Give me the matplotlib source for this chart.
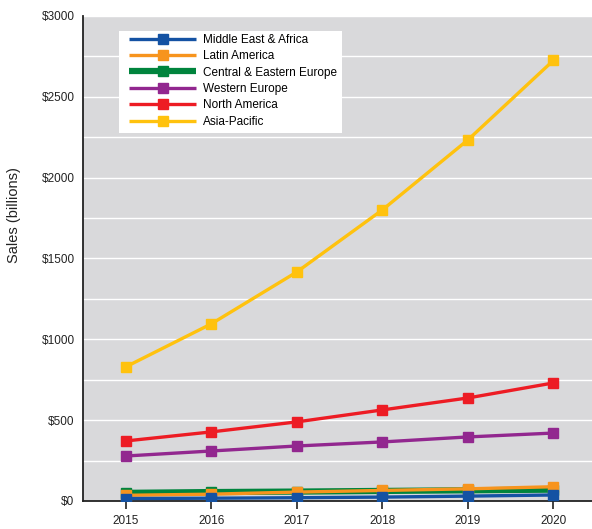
import matplotlib
matplotlib.use("Agg")
import matplotlib.pyplot as plt
from matplotlib.patches import Rectangle
from matplotlib.ticker import MultipleLocator, FuncFormatter

plt.rcParams['font.family'] = ['Liberation Sans', 'DejaVu Sans']

years = [2015, 2016, 2017, 2018, 2019, 2020]
series_names = ["Middle East & Africa", "Latin America", "Central & Eastern Europe",
                "Western Europe", "North America", "Asia-Pacific"]
mea = [15, 17, 20, 24, 30, 37]
latam = [35, 42, 55, 65, 75, 88]
cee = [50, 55, 58, 62, 66, 70]
weu = [278, 309, 340, 365, 396, 420]
nam = [371, 427, 489, 563, 637, 730]
apac = [829, 1095, 1416, 1800, 2233, 2725]
values = [mea, latam, cee, weu, nam, apac]
colors = ["#1452a3", "#f7941d", "#00843d", "#92278f", "#ed1c24", "#ffc20e"]
lws = [2.4, 2.4, 4.5, 2.4, 2.4, 2.4]

fig = plt.figure(figsize=(5.92, 5.29), dpi=100)
ax = fig.add_axes([0.140, 0.053, 0.860, 0.917])
ax.set_facecolor("#d9d9db")

for i, (name, vals, c, lw) in enumerate(zip(series_names, values, colors, lws)):
    ax.plot(years, vals, color=c, lw=lw, marker='s', markersize=7.5,
            label=name, zorder=10 - i, solid_capstyle='butt')

ax.set_xlim(2014.5, 2020.45)
ax.set_ylim(0, 3000)
ax.set_xticks(years)
ax.yaxis.set_major_locator(MultipleLocator(500))
ax.yaxis.set_minor_locator(MultipleLocator(250))
ax.yaxis.set_major_formatter(FuncFormatter(lambda v, p: f"${int(v)}"))
ax.grid(True, which='both', axis='y', color='white', lw=1.0, zorder=0)
ax.set_axisbelow(True)
ax.tick_params(axis='y', which='both', length=0, labelsize=8.5, colors='#222222', pad=6)
ax.tick_params(axis='x', length=6, width=1.2, labelsize=8.5, colors='#222222', pad=4)
ax.set_ylabel("Sales (billions)", fontsize=10.5, color='#222222')
ax.yaxis.set_label_coords(-0.122, 0.59)

for s in ['top', 'right']:
    ax.spines[s].set_visible(False)
for s in ['left', 'bottom']:
    ax.spines[s].set_color('#222222')
    ax.spines[s].set_linewidth(1.3)

# white legend box
ax.add_patch(Rectangle((0.0707, 0.759), 0.4383, 0.210, transform=ax.transAxes,
                       facecolor='white', edgecolor='none', zorder=20))

leg = ax.legend(loc='upper left', bbox_to_anchor=(0.0904, 0.963), frameon=False,
                fontsize=8.5, handlelength=5.7, handletextpad=0.6,
                labelspacing=0.37, borderpad=0, borderaxespad=0)
leg.set_zorder(21)

fig.savefig("out.png", dpi=100)
